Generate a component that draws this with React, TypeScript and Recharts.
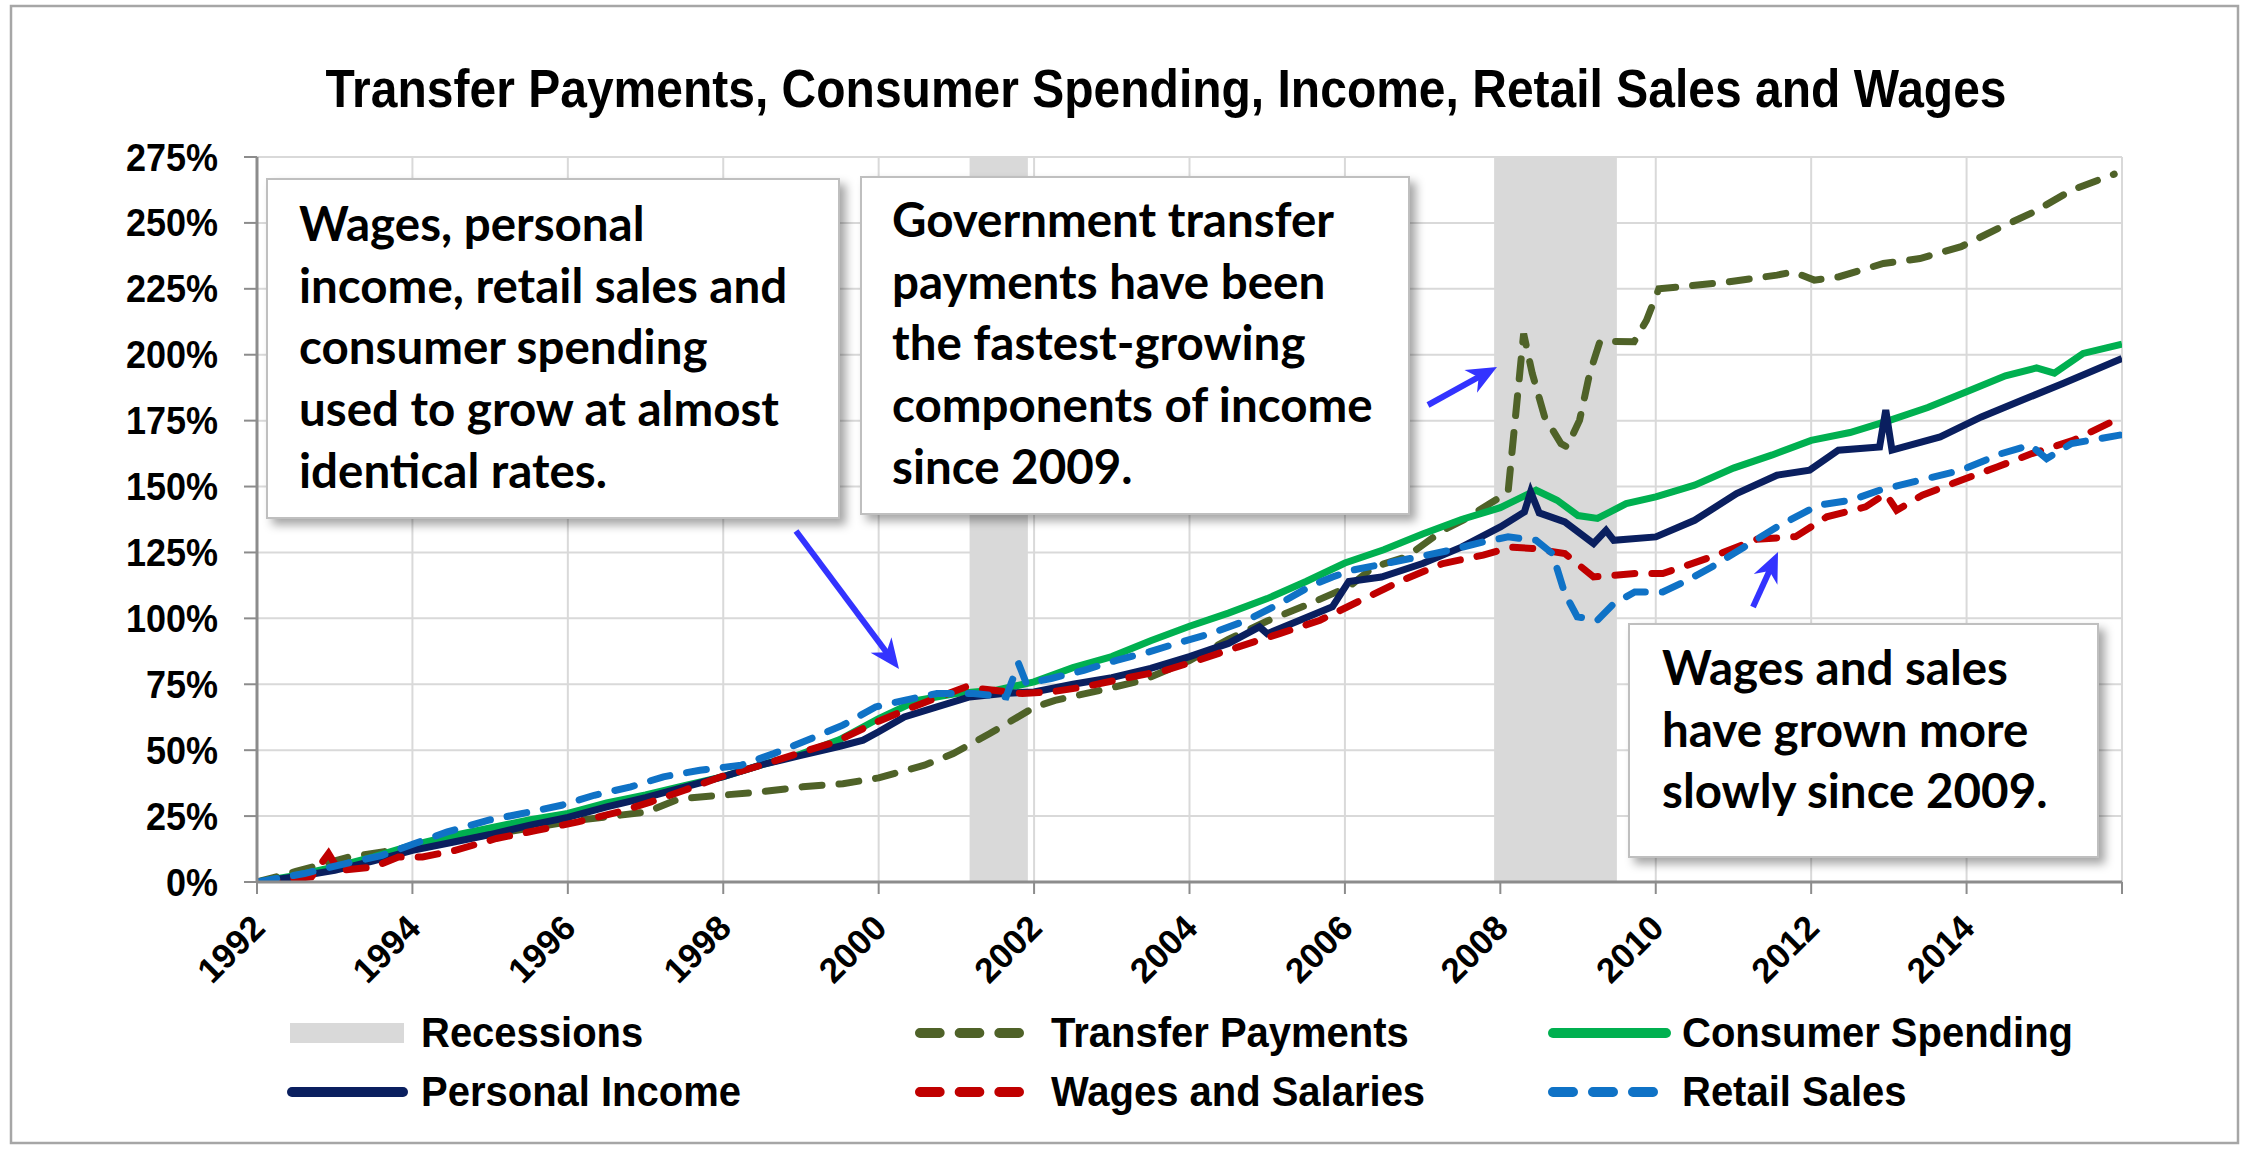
import React from 'react';
import { LineChart, Line, XAxis, YAxis, CartesianGrid, ReferenceArea } from 'recharts';

const W = 2250;
const H = 1152;

const xTicks = [1992, 1994, 1996, 1998, 2000, 2002, 2004, 2006, 2008, 2010, 2012, 2014, 2016];
const yTicks = [0, 25, 50, 75, 100, 125, 150, 175, 200, 225, 250, 275];
const recessions: [number, number][] = [
  [2001.17, 2001.92],
  [2007.92, 2009.5],
];

const transferPayments: [number, number][] = [
  [1992.0, 0], [1992.5, 4], [1993.19, 9.5], [1994.03, 13.3], [1995.08, 18.4], [1996.13, 23.4],
  [1997.02, 26.6], [1997.44, 31.6], [1997.97, 32.9], [1998.49, 34.2], [1999.02, 36.1], [1999.54, 37.3],
  [2000.0, 39.5], [2000.59, 44.3], [2000.96, 48.7], [2001.43, 56.3], [2002.01, 66.4], [2002.27, 68.9],
  [2002.85, 72.7], [2003.4, 76.5], [2004.0, 84], [2004.5, 92], [2005.0, 99], [2005.5, 105],
  [2006.05, 112], [2006.37, 119.5], [2006.79, 123.3], [2007.26, 133.4], [2007.52, 137.2], [2008.0, 146],
  [2008.1, 148], [2008.3, 208], [2008.41, 193], [2008.57, 176.4], [2008.78, 166.3], [2008.86, 165],
  [2009.02, 175.2], [2009.15, 192.9], [2009.28, 204.9], [2009.46, 205], [2009.72, 204.9], [2009.88, 213],
  [2010.04, 225], [2010.3, 225.7], [2010.93, 227.6], [2011.56, 230.2], [2011.77, 231.4], [2012.04, 228.3],
  [2012.35, 229.5], [2012.93, 234.6], [2013.4, 236.5], [2013.93, 241], [2014.45, 248.5], [2014.87, 254.2],
  [2015.35, 262.4], [2015.9, 268.5],
];

const consumerSpending: [number, number][] = [
  [1992.0, 0], [1992.5, 2.5], [1993.0, 5.7], [1993.5, 9.5], [1994.0, 14], [1994.5, 17.5],
  [1995.0, 20.5], [1995.5, 23.5], [1996.0, 26], [1996.5, 30], [1997.0, 33], [1997.5, 36.5],
  [1998.0, 40], [1998.5, 44.5], [1999.0, 48.5], [1999.5, 54], [2000.0, 62], [2000.5, 68.9],
  [2001.0, 71.5], [2001.5, 72.7], [2002.0, 75.9], [2002.5, 81.3], [2003.0, 85.5], [2003.5, 91.5],
  [2004.0, 97], [2004.5, 102], [2005.0, 107.5], [2005.5, 114], [2006.0, 121], [2006.5, 126],
  [2007.0, 132], [2007.5, 137.5], [2008.0, 142], [2008.46, 148.6], [2008.73, 144.8], [2009.0, 139],
  [2009.25, 137.9], [2009.62, 143.5], [2010.0, 146.1], [2010.5, 150.5], [2011.0, 157], [2011.5, 162],
  [2012.0, 167.5], [2012.5, 170.5], [2013.0, 175], [2013.5, 180], [2014.0, 186], [2014.5, 192],
  [2014.9, 195], [2015.13, 193], [2015.5, 200.5], [2016.0, 204],
];

const personalIncome: [number, number][] = [
  [1992.0, 0], [1992.5, 2], [1993.0, 4.4], [1993.5, 8], [1994.0, 12], [1994.5, 15],
  [1995.0, 18], [1995.5, 21.5], [1996.0, 24.5], [1996.5, 28.5], [1997.0, 32], [1997.5, 36],
  [1998.0, 40], [1998.5, 44.5], [1999.0, 48], [1999.5, 51.5], [1999.8, 53.8], [2000.0, 57],
  [2000.33, 62.6], [2000.75, 66.4], [2001.17, 70.2], [2001.6, 71.5], [2002.0, 72.1], [2002.5, 75],
  [2003.0, 77.5], [2003.5, 81], [2004.0, 85.5], [2004.5, 90.5], [2004.9, 96.8], [2005.0, 94.2],
  [2005.42, 99.3], [2005.84, 104.4], [2006.05, 114], [2006.47, 115.7], [2007.0, 120.8], [2007.5, 127],
  [2008.0, 134.7], [2008.31, 140.4], [2008.39, 148], [2008.5, 140], [2008.83, 136.6], [2009.2, 128.4],
  [2009.36, 133.4], [2009.46, 129.6], [2010.0, 130.9], [2010.5, 137.2], [2011.04, 147.3], [2011.56, 154.3],
  [2011.98, 156.2], [2012.35, 163.8], [2012.88, 165], [2012.96, 179], [2013.04, 163.8], [2013.66, 168.8],
  [2014.19, 176.4], [2014.71, 182.7], [2015.24, 189.1], [2016.0, 198.6],
];

const wagesSalaries: [number, number][] = [
  [1992.0, 0], [1992.7, 1.9], [1992.92, 10.8], [1993.05, 4.4], [1993.5, 5.7], [1993.82, 9.5],
  [1994.13, 9.5], [1994.55, 12], [1995.08, 16.5], [1995.6, 19.6], [1996.13, 22.8], [1996.66, 26.6],
  [1997.07, 30.4], [1997.5, 34.8], [1997.97, 39.9], [1998.49, 44.3], [1999.02, 49.3], [1999.44, 53.1],
  [2000.0, 61], [2000.45, 66.5], [2001.12, 74], [2001.48, 72.7], [2001.85, 71.5], [2002.22, 72.1],
  [2002.64, 74], [2003.16, 77.2], [2003.69, 80.3], [2004.11, 84.1], [2004.63, 89.2], [2005.16, 94.2],
  [2005.68, 99.3], [2006.21, 106.9], [2006.74, 114.5], [2007.26, 120.8], [2007.78, 124], [2008.14, 127],
  [2008.41, 126.5], [2008.83, 124.6], [2009.2, 115.7], [2009.73, 117], [2010.09, 117], [2010.41, 120.2],
  [2010.78, 124], [2011.3, 130], [2011.8, 131], [2012.2, 138.5], [2012.7, 142.3], [2012.96, 147.3],
  [2013.1, 141], [2013.43, 146.7], [2013.93, 152.4], [2014.4, 157.5], [2014.84, 162.5], [2015.38, 167.6],
  [2015.97, 176],
];

const retailSales: [number, number][] = [
  [1992.0, 0], [1992.61, 3.2], [1993.14, 7], [1993.61, 10.1], [1994.03, 14.6], [1994.45, 19],
  [1994.97, 23.4], [1995.4, 25.9], [1995.92, 29.1], [1996.34, 32.9], [1996.81, 36.1], [1997.23, 39.9],
  [1997.7, 42.4], [1998.23, 44.3], [1998.65, 48.7], [1999.18, 55], [1999.54, 59.5], [1999.96, 66.4],
  [2000.33, 68.9], [2000.75, 71.5], [2001.22, 71.5], [2001.64, 70.2], [2001.8, 82.9], [2001.9, 75.3],
  [2002.22, 77.2], [2002.64, 80.3], [2003.06, 84.1], [2003.48, 87.3], [2003.9, 91.1], [2004.27, 94.2],
  [2004.74, 99.3], [2005.16, 105.6], [2005.58, 112.6], [2005.84, 115.7], [2006.1, 118.3], [2006.52, 120.8],
  [2006.94, 123.3], [2007.36, 125.9], [2007.78, 129], [2008.1, 130.9], [2008.46, 129.6], [2008.67, 124.6],
  [2008.83, 109.4], [2008.99, 100.6], [2009.25, 99.3], [2009.46, 105.6], [2009.73, 110], [2010.09, 110],
  [2010.41, 114.5], [2010.72, 119.5], [2011.14, 127.1], [2011.56, 134.7], [2012.09, 142.9], [2012.51, 144.8],
  [2012.88, 148.6], [2013.4, 152.4], [2013.93, 156.2], [2014.45, 162.5], [2014.82, 165.7], [2015.03, 160.6],
  [2015.35, 166.3], [2015.97, 169.5],
];

const titleText = 'Transfer Payments, Consumer Spending, Income, Retail Sales and Wages';
const box1Lines = ['Wages, personal', 'income, retail sales and', 'consumer spending', 'used to grow at almost', 'identical rates.'];
const box2Lines = ['Government transfer', 'payments have been', 'the fastest-growing', 'components of income', 'since 2009.'];
const box3Lines = ['Wages and sales', 'have grown more', 'slowly since 2009.'];

const COLORS = {
  tp: '#4F6228',
  cs: '#00B050',
  pi: '#0A1F5F',
  ws: '#C00000',
  rs: '#0F72C6',
  rec: '#D9D9D9',
  grid: '#D9D9D9',
  axis: '#8C8C8C',
  arrow: '#3333FF',
};

const toPts = (s: [number, number][]) => s.map(([x, v]) => ({ x, v }));

const ARIAL = '"Liberation Sans", Arial, sans-serif';
const CAL = 'Lato, "Open Sans", sans-serif';

const XTick = (props: any) => {
  const { x, y, payload } = props;
  if (payload.value === 2016) return <g />;
  const ex = x + 10;
  const ey = y + 36;
  return (
    <text x={ex} y={ey} transform={`rotate(-45, ${ex}, ${ey})`} textAnchor="end" fontFamily={ARIAL}
      fontWeight="bold" fontSize={35} fill="#000">{payload.value}</text>
  );
};

const YTick = (props: any) => {
  const { x, y, payload } = props;
  return (
    <g transform={`translate(${x}, ${y}) scale(1, 1.08)`}>
      <text x={0} y={0} dy={12.5} textAnchor="end" fontFamily={ARIAL} fontWeight="bold" fontSize={36} fill="#000">
        {`${payload.value}%`}
      </text>
    </g>
  );
};

const Arrow = ({ x1, y1, x2, y2 }: { x1: number; y1: number; x2: number; y2: number }) => {
  const dx = x2 - x1, dy = y2 - y1;
  const len = Math.sqrt(dx * dx + dy * dy);
  const ux = dx / len, uy = dy / len;
  const hl = 30, hw = 13;
  const bx = x2 - ux * hl, by = y2 - uy * hl;
  const px = -uy, py = ux;
  const pts = `${x2},${y2} ${bx + px * hw},${by + py * hw} ${x2 - ux * hl * 0.7},${y2 - uy * hl * 0.7} ${bx - px * hw},${by - py * hw}`;
  return (
    <g>
      <line x1={x1} y1={y1} x2={x2 - ux * 15} y2={y2 - uy * 15} stroke={COLORS.arrow} strokeWidth={6} />
      <polygon points={pts} fill={COLORS.arrow} />
    </g>
  );
};

const Box = ({ x, y, w, h, tx, ty, lines }: { x: number; y: number; w: number; h: number; tx: number; ty: number; lines: string[] }) => (
  <g>
    <rect x={x} y={y} width={w} height={h} fill="#fff" stroke="#BFBFBF" strokeWidth={2} filter="url(#shadow)" />
    {lines.map((l, i) => (
      <text key={i} x={tx} y={ty + i * 61.7} fontFamily={CAL} fontWeight="bold" fontSize={47.5} fill="#000">{l}</text>
    ))}
  </g>
);

const legendRow1 = [
  { kind: 'rect', color: COLORS.rec, label: 'Recessions', sx: 290, ex: 404, tx: 421 },
  { kind: 'dash', color: COLORS.tp, label: 'Transfer Payments', sx: 915, ex: 1024, tx: 1051 },
  { kind: 'line', color: COLORS.cs, label: 'Consumer Spending', sx: 1548, ex: 1671, tx: 1682 },
];
const legendRow2 = [
  { kind: 'line', color: COLORS.pi, label: 'Personal Income', sx: 287, ex: 408, tx: 421 },
  { kind: 'dash', color: COLORS.ws, label: 'Wages and Salaries', sx: 915, ex: 1024, tx: 1051 },
  { kind: 'dash', color: COLORS.rs, label: 'Retail Sales', sx: 1548, ex: 1658, tx: 1682 },
];

const LegendItem = ({ item, cy }: { item: any; cy: number }) => (
  <g>
    {item.kind === 'rect' && <rect x={item.sx} y={cy - 10} width={item.ex - item.sx} height={20} fill={item.color} />}
    {item.kind === 'line' && (
      <line x1={item.sx + 5} y1={cy} x2={item.ex - 5} y2={cy} stroke={item.color} strokeWidth={10} strokeLinecap="round" />
    )}
    {item.kind === 'dash' && (
      <line x1={item.sx + 5} y1={cy} x2={item.ex - 5} y2={cy} stroke={item.color} strokeWidth={10}
        strokeLinecap="round" strokeDasharray={`${(item.ex - item.sx - 30 - 20) / 3} ${20}`} />
    )}
    <g transform={`translate(${item.tx}, ${cy + 14}) scale(1, 1.06)`}>
      <text x={0} y={0} fontFamily={ARIAL} fontWeight="bold" fontSize={40} fill="#000">{item.label}</text>
    </g>
  </g>
);

export default function App() {
  const lineProps = { type: 'linear' as const, dataKey: 'v', dot: false, activeDot: false, isAnimationActive: false, strokeWidth: 7 };
  return (
    <div style={{ position: 'absolute', left: 0, top: 0, width: W, height: H, background: '#fff', overflow: 'hidden' }}>
      <LineChart width={W} height={H} margin={{ top: 157, right: 128, bottom: 170, left: 157 }}>
        <CartesianGrid stroke={COLORS.grid} strokeWidth={2} vertical horizontal />
        <XAxis type="number" dataKey="x" domain={[1992, 2016]} ticks={xTicks} interval={0} height={100}
          allowDataOverflow tick={<XTick />} tickSize={12} tickMargin={0}
          axisLine={{ stroke: COLORS.axis, strokeWidth: 3 }} tickLine={{ stroke: COLORS.axis, strokeWidth: 2 }} />
        <YAxis type="number" domain={[0, 275]} ticks={yTicks} interval={0} width={100} allowDataOverflow
          tick={<YTick />} tickSize={13} tickMargin={26}
          axisLine={{ stroke: COLORS.axis, strokeWidth: 3 }} tickLine={{ stroke: COLORS.axis, strokeWidth: 2 }} />
        {recessions.map(([a, b], i) => (
          <ReferenceArea key={i} x1={a} x2={b} y1={0} y2={275} fill={COLORS.rec} fillOpacity={1} stroke="none" ifOverflow="hidden" />
        ))}
        <Line {...lineProps} data={toPts(transferPayments)} stroke={COLORS.tp} strokeDasharray="20 17" strokeLinecap="round" />
        <Line {...lineProps} data={toPts(consumerSpending)} stroke={COLORS.cs} />
        <Line {...lineProps} data={toPts(personalIncome)} stroke={COLORS.pi} />
        <Line {...lineProps} data={toPts(wagesSalaries)} stroke={COLORS.ws} strokeDasharray="20 17" strokeLinecap="round" />
        <Line {...lineProps} data={toPts(retailSales)} stroke={COLORS.rs} strokeDasharray="20 17" strokeLinecap="round" />
      </LineChart>
      <svg width={W} height={H} style={{ position: 'absolute', left: 0, top: 0, pointerEvents: 'none' }}>
        <defs>
          <filter id="shadow" x="-10%" y="-10%" width="130%" height="130%">
            <feDropShadow dx={6} dy={6} stdDeviation={5} floodColor="#000" floodOpacity={0.35} />
          </filter>
        </defs>
        <rect x={11} y={6} width={2227} height={1137} fill="none" stroke="#A6A6A6" strokeWidth={2.5} />
        <g transform="translate(1166, 107) scale(1, 1.12)">
          <text x={0} y={0} textAnchor="middle" fontFamily={ARIAL} fontWeight="bold" fontSize={48} fill="#000">{titleText}</text>
        </g>
        <Box x={267} y={179} w={572} h={339} tx={299} ty={241} lines={box1Lines} />
        <Box x={861} y={177} w={548} h={337} tx={892} ty={237} lines={box2Lines} />
        <Box x={1629} y={624} w={469} h={233} tx={1662} ty={685} lines={box3Lines} />
        <Arrow x1={796} y1={531} x2={899} y2={669} />
        <Arrow x1={1428} y1={405} x2={1497} y2={367} />
        <Arrow x1={1753} y1={607} x2={1778} y2={552} />
        {legendRow1.map((it, i) => <LegendItem key={i} item={it} cy={1033} />)}
        {legendRow2.map((it, i) => <LegendItem key={i} item={it} cy={1092} />)}
      </svg>
    </div>
  );
}
